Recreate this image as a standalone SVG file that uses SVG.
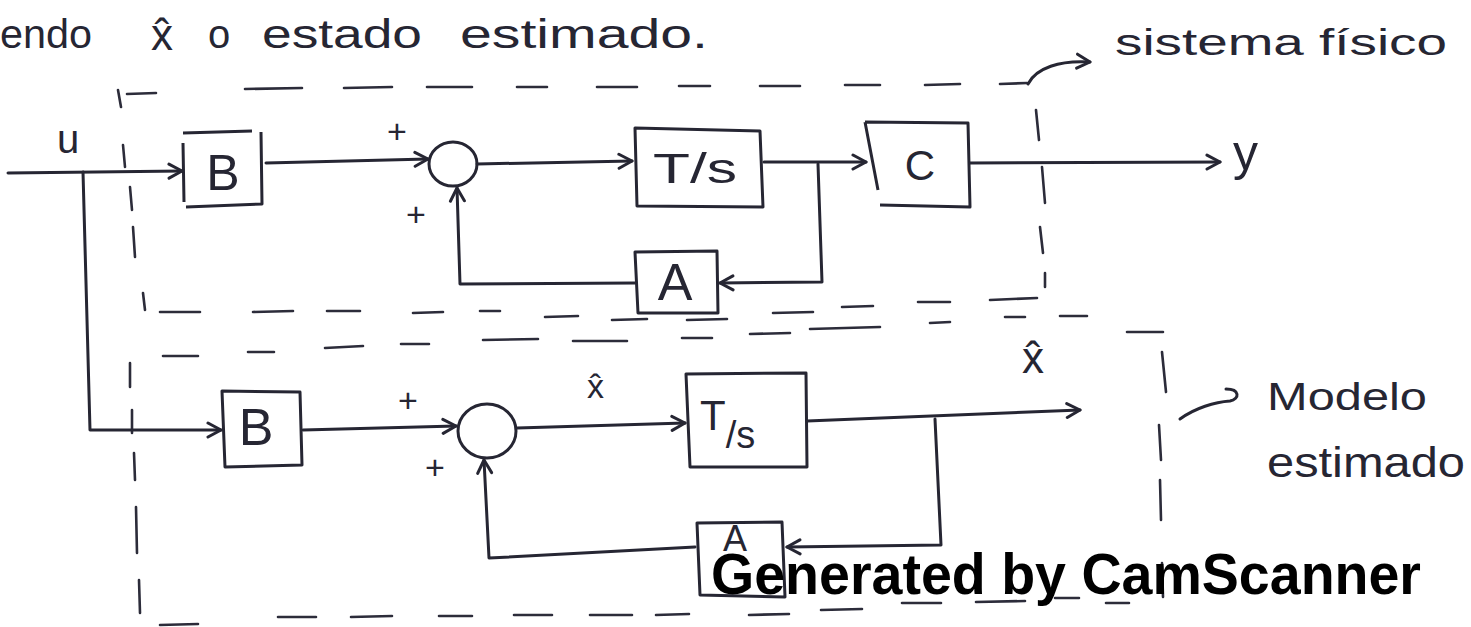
<svg xmlns="http://www.w3.org/2000/svg" width="1471" height="627" viewBox="0 0 1471 627">
  <style>
    .ink { fill: none; stroke: #262633; stroke-width: 3; stroke-linecap: round; stroke-linejoin: round; }
    .dash { fill: none; stroke: #2c2c3a; stroke-width: 2.6; stroke-linecap: round; }
    .box { fill: none; stroke: #262633; stroke-width: 3; stroke-linejoin: round; }
    .hw { font-family: "Liberation Sans", "DejaVu Sans", sans-serif; fill: #262633; }
    .mid { text-anchor: middle; }
    .wm { font-family: "Liberation Sans", Arial, sans-serif; font-weight: bold; fill: #000; }
  </style>
  <defs>
    <marker id="arr" viewBox="0 0 18 18" refX="16" refY="9" markerWidth="18" markerHeight="18" orient="auto" markerUnits="userSpaceOnUse">
      <path d="M3,2 L16,9 L3,16" fill="none" stroke="#262633" stroke-width="3" stroke-linecap="round" stroke-linejoin="round"/>
    </marker>
  </defs>

  <rect width="1471" height="627" fill="#ffffff"/>

  <!-- heading line -->
  <g id="heading">
    <text class="hw" x="0" y="48" font-size="40" textLength="92" lengthAdjust="spacingAndGlyphs">endo</text>
    <text class="hw" x="151" y="50" font-size="44">x̂</text>
    <text class="hw" x="208" y="48" font-size="40">o</text>
    <text class="hw" x="262" y="48" font-size="40" textLength="160" lengthAdjust="spacingAndGlyphs">estado</text>
    <text class="hw" x="460" y="48" font-size="40" textLength="248" lengthAdjust="spacingAndGlyphs">estimado.</text>
  </g>

  <!-- dashed boundaries: physical system (top) and estimated model (bottom) -->
  <g id="boundaries">
    <path class="dash" d="M118,90 L121,107 M127,94 L156,93 M245,89 L302,88 M344,88 L392,87 M427,87 L472,87 M517,87 L547,87 M597,87 L637,87 M679,86 L710,86 M760,86 L800,86 M845,85 L880,85 M925,85 L960,84 M1000,84 L1027,83"/>
    <path class="dash" d="M123,145 L125,167 M130,187 L132,210 M133,227 L135,257 M143,293 L145,310"/>
    <path class="dash" d="M1036,110 L1039,140 M1042,167 L1045,203 M1040,227 L1043,253 M1045,273 L1045,287"/>
    <path class="dash" d="M160,312 L200,312 M253,312 L293,311 M327,311 L360,311 M413,313 L443,312 M480,311 L500,311 M545,317 L578,316 M612,320 L647,319 M687,320 L727,319 M773,313 L813,312 M842,307 L873,306 M918,302 L950,302 M990,300 L1037,298"/>
    <path class="dash" d="M163,356 L198,356 M248,352 L274,352 M325,348 L363,346 M401,344 L429,344 M483,340 L538,339 M573,341 L627,341 M682,338 L712,338 M750,334 L790,333 M810,329 L880,327 M930,323 L950,322 M1005,317 L1025,317 M1060,316 L1087,316 M1127,332 L1163,332"/>
    <path class="dash" d="M130,363 L130,387 M132,410 L132,433 M134,453 L135,480 M136,507 L137,553 M139,580 L140,613"/>
    <path class="dash" d="M1162,352 L1166,392 M1159,425 L1161,460 M1160,480 L1161,520 M1162,563 L1163,597"/>
    <path class="dash" d="M160,625 L198,624 M278,617 L316,617 M351,617 L392,616 M439,616 L472,616 M514,615 L552,615 M590,615 L632,615 M656,615 L689,614 M749,615 L789,614 M821,610 L862,609 M902,603 L941,603 M976,602 L1025,601 M1055,598 L1079,598 M1106,603 L1129,603"/>
  </g>

  <!-- physical system blocks -->
  <g id="B1">
    <path class="box" d="M183,133 L252,131 M261,132 L262,204 L186,207 M183,143 L184,202"/>
    <text class="hw mid" x="223" y="190" font-size="50">B</text>
  </g>
  <g id="sum1">
    <ellipse class="box" cx="453" cy="164" rx="24" ry="22"/>
  </g>
  <g id="Ts1">
    <path class="box" d="M635,128 L760,131 L763,207 L637,206 Z"/>
    <text class="hw" x="653" y="183" font-size="42" textLength="84" lengthAdjust="spacingAndGlyphs">T/s</text>
  </g>
  <g id="C1">
    <path class="box" d="M865,122 L968,123 L970,207 L880,205 M865,122 L878,190"/>
    <text class="hw mid" x="920" y="180" font-size="42">C</text>
  </g>
  <g id="A1">
    <path class="box" d="M635,252 L717,251 L718,313 L638,313 Z"/>
    <text class="hw mid" x="675" y="300" font-size="52">A</text>
  </g>

  <!-- estimated model blocks -->
  <g id="B2">
    <path class="box" d="M222,391 L300,392 L302,465 L225,467 Z"/>
    <text class="hw mid" x="256" y="445" font-size="52">B</text>
  </g>
  <g id="sum2">
    <ellipse class="box" cx="487" cy="431" rx="29" ry="27"/>
  </g>
  <g id="Ts2">
    <path class="box" d="M686,374 L806,373 L807,467 L690,467 Z"/>
    <text class="hw" x="700" y="430" font-size="42">T<tspan dy="18" font-size="38">/s</tspan></text>
  </g>
  <g id="A2">
    <path class="box" d="M697,523 L782,522 L785,597 L700,595 Z"/>
    <text class="hw mid" x="735" y="551" font-size="36">A</text>
  </g>

  <!-- signal connectors -->
  <g id="connectors">
    <path class="ink" d="M8,173 L182,171" marker-end="url(#arr)"/>
    <path class="ink" d="M83,172 L90,430 L221,430" marker-end="url(#arr)"/>
    <path class="ink" d="M266,163 L428,159" marker-end="url(#arr)"/>
    <path class="ink" d="M477,164 L632,161" marker-end="url(#arr)"/>
    <path class="ink" d="M764,162 L866,162" marker-end="url(#arr)"/>
    <path class="ink" d="M970,163 L1220,162" marker-end="url(#arr)"/>
    <path class="ink" d="M818,164 L822,282 L720,283" marker-end="url(#arr)"/>
    <path class="ink" d="M635,283 L460,284 L457,188" marker-end="url(#arr)"/>

    <path class="ink" d="M303,430 L456,426" marker-end="url(#arr)"/>
    <path class="ink" d="M517,428 L685,423" marker-end="url(#arr)"/>
    <path class="ink" d="M807,421 L1080,410" marker-end="url(#arr)"/>
    <path class="ink" d="M935,419 L941,545 L787,547" marker-end="url(#arr)"/>
    <path class="ink" d="M695,547 L489,558 L484,460" marker-end="url(#arr)"/>

    <!-- annotation pointers -->
    <path class="ink" d="M1028,84 C1036,68 1060,60 1090,62" marker-end="url(#arr)"/>
    <path class="ink" d="M1180,419 C1195,408 1215,402 1230,401 C1240,399 1240,389 1226,389"/>
  </g>

  <!-- signal labels -->
  <g id="labels">
    <text class="hw mid" x="68" y="153" font-size="40">u</text>
    <text class="hw mid" x="397" y="143" font-size="34">+</text>
    <text class="hw mid" x="416" y="226" font-size="34">+</text>
    <text class="hw" x="1233" y="170" font-size="50">y</text>
    <text class="hw mid" x="408" y="412" font-size="34">+</text>
    <text class="hw mid" x="435" y="479" font-size="34">+</text>
    <text class="hw" x="587" y="398" font-size="34">x̂</text>
    <text class="hw" x="1022" y="373" font-size="44">x̂</text>
    <text class="hw" x="1115" y="55" font-size="36" textLength="332" lengthAdjust="spacingAndGlyphs">sistema físico</text>
    <text class="hw" x="1267" y="410" font-size="38" textLength="160" lengthAdjust="spacingAndGlyphs">Modelo</text>
    <text class="hw" x="1267" y="477" font-size="42" textLength="198" lengthAdjust="spacingAndGlyphs">estimado</text>
  </g>

  <text class="wm" x="711" y="594" font-size="57" textLength="710" lengthAdjust="spacingAndGlyphs">Generated by CamScanner</text>
</svg>
